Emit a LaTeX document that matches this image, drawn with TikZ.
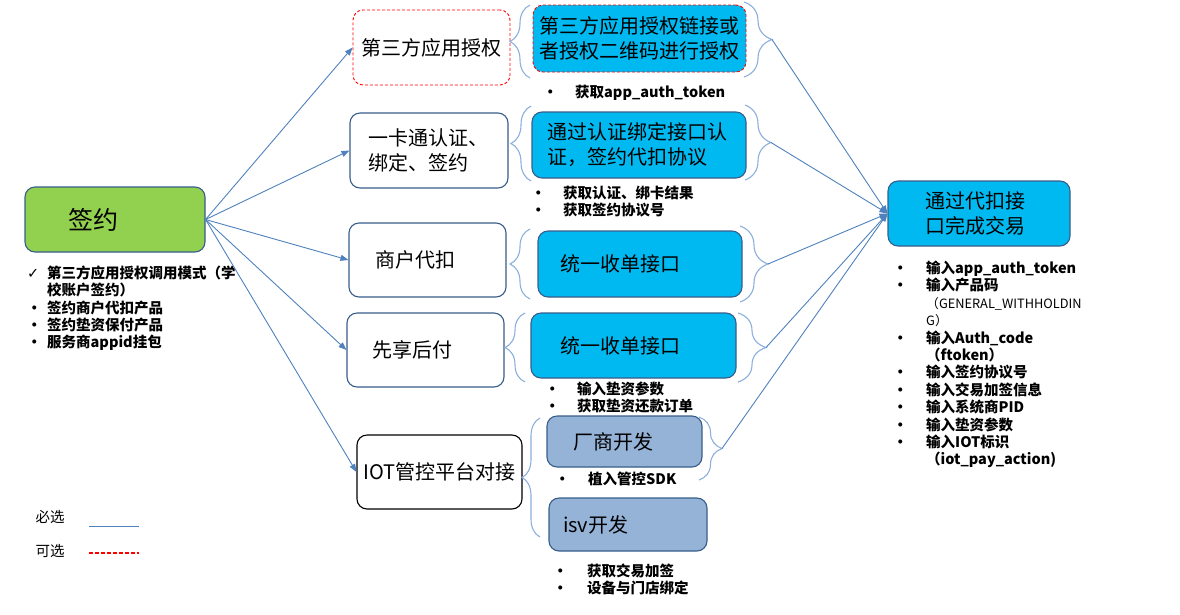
\documentclass[tikz,border=0pt]{standalone}
\usepackage{fontspec}
\setmainfont{Noto Sans CJK SC}
\newfontfamily\symfont{DejaVu Sans}
\usepackage{tikz}
\usetikzlibrary{arrows.meta,decorations.pathreplacing}

\definecolor{linkblue}{RGB}{79,129,189}
\definecolor{bracecol}{RGB}{140,175,220}
\definecolor{boxedge}{RGB}{56,93,138}
\definecolor{apiblue}{RGB}{0,185,240}
\definecolor{devblue}{RGB}{149,179,215}
\definecolor{signgreen}{RGB}{146,208,80}
\definecolor{optred}{RGB}{255,0,0}

% bullet line: #1 = room for the bullet
\newcommand{\bul}[2][32pt]{\makebox[#1][l]{\textbullet}#2}

\begin{document}
\begin{tikzpicture}[x=1pt,y=-1pt]
            \tikzstyle{box}=[draw=boxedge, line width=1.1pt, rounded corners=10pt, inner ysep=0pt, align=left, font=\fontsize{20}{25}\selectfont]
            \tikzstyle{plain}=[box, fill=white]
            \tikzstyle{api}=[box, fill=apiblue]
            \tikzstyle{dev}=[box, fill=devblue]
            \tikzstyle{optional}=[draw=optred, line width=0.9pt, dash pattern=on 3pt off 2pt]
            \tikzstyle{notes}=[inner sep=0pt, anchor=north west, align=left, font=\bfseries\fontsize{14.5}{17.4}\selectfont]
            \tikzstyle{must}=[draw=linkblue, line width=0.9pt, -{Triangle[length=8pt,width=6pt]}]
            \tikzstyle{brk}=[draw=bracecol, line width=1.1pt, decorate]
            \useasboundingbox (0,0) rectangle (1180,614);

            % left: sign up
            \node[plain, fill=signgreen, minimum height=65pt, text width=94pt, inner xsep=43pt, font=\fontsize{25}{30}\selectfont] (sign) at (115,219.5) {签约};
            \node[notes] (signnotes) at (27,265.5) {\makebox[20pt][l]{\symfont\mdseries ✓}第三方应用授权调用模式（学\\
                \hspace*{20pt}校账户签约）\\
                \bul[20pt]{签约商户代扣产品}\\
                \bul[20pt]{签约垫资保付产品}\\
                \bul[20pt]{服务商appid挂包}};

            % middle column
            \node[plain, optional, minimum width=157pt, minimum height=75pt, inner xsep=4pt, align=center] (auth) at (431.5,47.5) {第三方应用授权};
            \node[plain, minimum height=75pt, text width=122pt, inner xsep=18pt] (card) at (429,150.5) {一卡通认证、\\绑定、签约};
            \node[plain, minimum height=74pt, text width=105pt, inner xsep=26pt] (merchant) at (427.5,260) {商户代扣};
            \node[plain, minimum height=74pt, text width=107pt, inner xsep=25pt] (later) at (425.5,350) {先享后付};
            \node[plain, draw=black, minimum width=165pt, minimum height=74pt, inner xsep=3pt, align=center] (iot) at (439.5,472) {IOT管控平台对接};

            \foreach \t in {auth,card,merchant,later,iot}
                \draw[must] (sign.east) -- (\t.west);

            % interfaces
            \node[api, optional, minimum height=67pt, text width=204pt, inner xsep=4.5pt, align=center] (authlink) at (639.5,38.5) {第三方应用授权链接或\\者授权二维码进行授权};
            \node[api, minimum height=66pt, text width=184pt, inner xsep=15pt] (bindapi) at (639,145) {通过认证绑定接口认\\证，签约代扣协议};
            \node[api, minimum height=66pt, text width=160pt, inner xsep=22pt] (payapi) at (640,264) {统一收单接口};
            \node[api, minimum height=65pt, text width=147pt, inner xsep=29pt] (laterapi) at (633.5,345.5) {统一收单接口};
            \node[dev, minimum height=51pt, text width=103pt, inner xsep=26pt] (vendor) at (624.5,441.5) {厂商开发};
            \node[dev, minimum height=53pt, text width=130pt, inner xsep=14pt] (isv) at (628,524.5) {isv开发};

            \node[notes] (authnotes) at (543,84.7) {\bul{获取app\_auth\_token}};
            \node[notes] (bindnotes) at (531,185.7) {\bul{获取认证、绑卡结果}\\\bul{获取签约协议号}};
            \node[notes] (laternotes) at (545,381.7) {\bul{输入垫资参数}\\\bul{获取垫资还款订单}};
            \node[notes] (vendornotes) at (555,471.7) {\bul[33pt]{植入管控SDK}};
            \node[notes] (isvnotes) at (553,563.7) {\bul[34pt]{获取交易加签}\\\bul[34pt]{设备与门店绑定}};

            % braces
            \draw[brk, decoration={brace, amplitude=20pt}] (530,78) -- (530,5);
            \draw[brk, decoration={brace, amplitude=20pt}] (531,181) -- (531,106);
            \draw[brk, decoration={brace, amplitude=20pt}] (530,299) -- (530,229);
            \draw[brk, decoration={brace, amplitude=20pt}] (525,382) -- (525,313);
            \draw[brk, decoration={brace, amplitude=18pt}] (540,537) -- (540,418);
            \draw[brk, decoration={brace, amplitude=28pt}] (744,2) -- (744,77);
            \draw[brk, decoration={brace, amplitude=26pt}] (745,105) -- (745,180);
            \draw[brk, decoration={brace, amplitude=28pt}] (740,226) -- (740,302);
            \draw[brk, decoration={brace, amplitude=28pt}] (738,313) -- (738,382);
            \draw[brk, decoration={brace, amplitude=23pt}] (699,417) -- (699,480);

            \coordinate (authtip) at (772,39.5);
            \coordinate (bindtip) at (771,142.5);
            \coordinate (paytip) at (768,264);
            \coordinate (latertip) at (766,347.5);
            \coordinate (vendortip) at (722,448.5);

            % right: trade
            \node[api, minimum height=65pt, text width=108pt, inner xsep=37pt] (trade) at (979,213.5) {通过代扣接\\口完成交易};
            \foreach \t in {authtip,bindtip,paytip,latertip,vendortip}
                \draw[must] (\t) -- (trade.west);

            \node[notes] (tradenotes) at (893,260.7) {\bul[33pt]{输入app\_auth\_token}\\
                \bul[33pt]{输入产品码}\\
                \hspace*{33pt}{\mdseries\fontsize{12.8}{17.4}\selectfont （GENERAL\_WITHHOLDIN}\\
                \hspace*{33pt}{\mdseries\fontsize{12.8}{17.4}\selectfont G）}\\
                \bul[33pt]{输入Auth\_code}\\
                \hspace*{33pt}（ftoken）\\
                \bul[33pt]{输入签约协议号}\\
                \bul[33pt]{输入交易加签信息}\\
                \bul[33pt]{输入系统商PID}\\
                \bul[33pt]{输入垫资参数}\\
                \bul[33pt]{输入IOT标识}\\
                \hspace*{33pt}（iot\_pay\_action)};

            % legend
            \node[font=\fontsize{14.5}{17}\selectfont] (mustlabel) at (50,517) {必选};
            \node[font=\fontsize{14.5}{17}\selectfont] (optlabel) at (50,551) {可选};
            \coordinate (muststart) at (89,526);
            \coordinate (mustend) at (139,526);
            \coordinate (optstart) at (89,553);
            \coordinate (optend) at (139,553);
            \draw[draw=linkblue, line width=0.9pt] (muststart) -- (mustend);
            \draw[draw=optred, line width=1.4pt, dash pattern=on 4pt off 2pt] (optstart) -- (optend);
        \end{tikzpicture}
\end{document}
